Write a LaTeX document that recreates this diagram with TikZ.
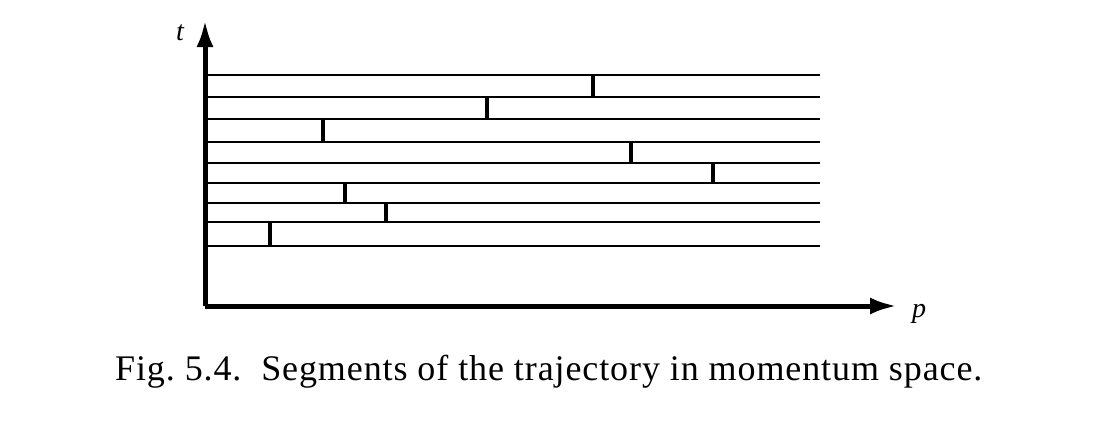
\documentclass[tikz,border=0pt]{standalone}
\usepackage{fontspec}
\setmainfont{Liberation Serif}
\usepackage{tikz}
\usetikzlibrary{positioning}
\usetikzlibrary{arrows.meta}
\tikzstyle{axis} = [draw, line width=5pt, line join=round, -{Latex[length=27pt,width=17pt]}]
\tikzstyle{seg} = [draw, line width=2pt]
\tikzstyle{jump} = [draw, line width=3.2pt]
\tikzstyle{lab} = [inner sep=0pt, font=\fontsize{28}{30}\selectfont\itshape]

\begin{document}
\begin{tikzpicture}[x=1pt, y=-1pt]
\useasboundingbox (0,0) rectangle (1117,429);
    % nodes
\coordinate (o) at (205,306);
\coordinate (tend) at (205,20);
\coordinate (pend) at (897,306);
\node [lab, anchor=base] (t) at (180,40) {t};
\node [lab, anchor=base west] (p) at (912,317) {p};
\node [inner sep=0pt, anchor=base west, font=\fontsize{36}{40}\addfontfeature{LetterSpace=2.5}\selectfont] (cap) at (115,380) {Fig.\ 5.4.\ \ Segments of the trajectory in momentum space.};

% segments
\path [seg] (205,75) -- (820,75);
\path [seg] (205,97) -- (820,97);
\path [seg] (205,119) -- (820,119);
\path [seg] (205,142) -- (820,142);
\path [seg] (205,163) -- (820,163);
\path [seg] (205,183) -- (820,183);
\path [seg] (205,203) -- (820,203);
\path [seg] (205,222) -- (820,222);
\path [seg] (205,246) -- (820,246);

\path [jump] (593,75) -- (593,97);
\path [jump] (487,97) -- (487,119);
\path [jump] (323,119) -- (323,142);
\path [jump] (631,142) -- (631,163);
\path [jump] (713,163) -- (713,183);
\path [jump] (345,183) -- (345,203);
\path [jump] (386,203) -- (386,222);
\path [jump] (270,222) -- (270,246);

%edges
\path [axis] (o) -- (tend);
\path [axis] (o) -- (pend);

\end{tikzpicture}
\end{document}
